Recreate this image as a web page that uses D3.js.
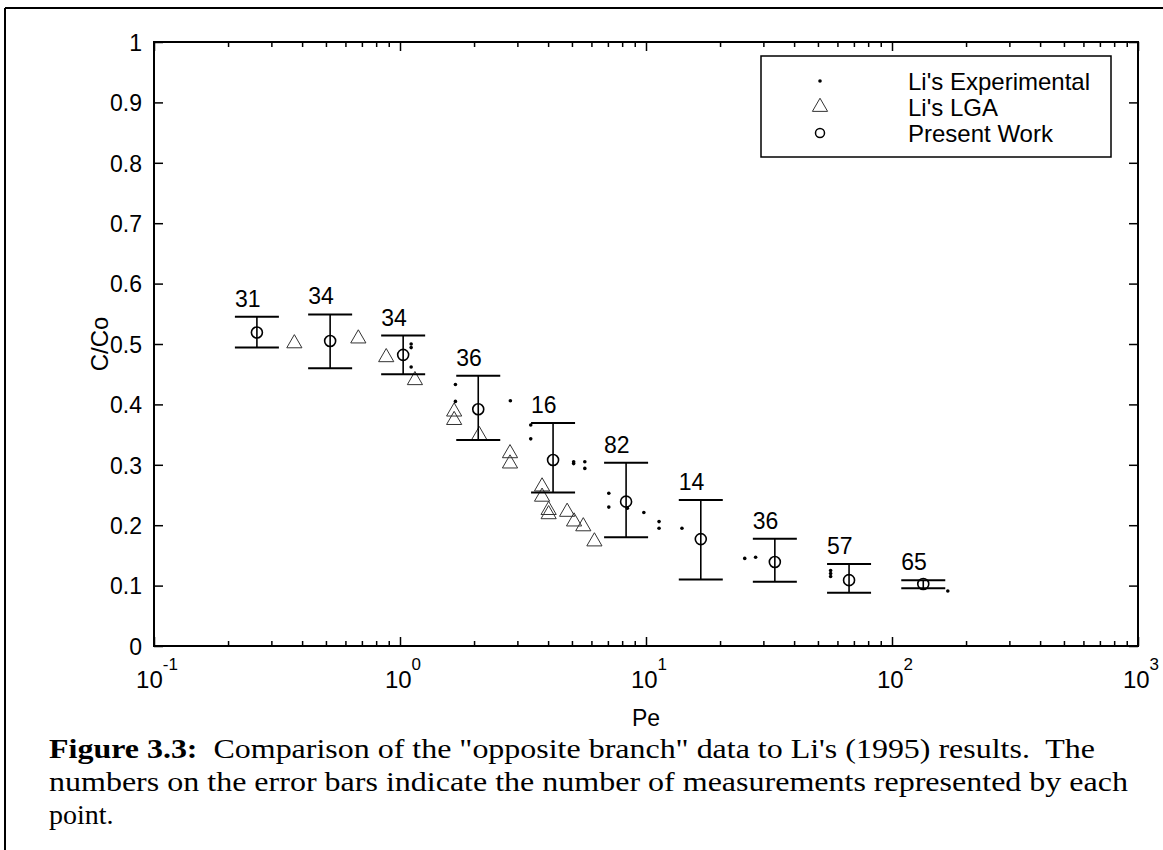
<!DOCTYPE html>
<html>
<head>
<meta charset="utf-8">
<script src="https://cdn.jsdelivr.net/npm/d3@7"></script>
<style>
  html, body { margin: 0; padding: 0; background: #fff; }
  svg text { font-family: "Liberation Sans", Arial, Helvetica, sans-serif; fill: #000; }
  .caption { font-family: "Liberation Serif", "Times New Roman", serif; }
</style>
</head>
<body>
<svg id="chart"></svg>
<script>
// Present Work: mean C/Co with error bar limits and number of measurements
const pwPe = [0.262, 0.52, 1.03, 2.08, 4.19, 8.3, 16.7, 33.4, 66.9, 134];
const pwC  = [0.519, 0.505, 0.482, 0.392, 0.308, 0.239, 0.177, 0.139, 0.109, 0.1026];
const pwHi = [0.545, 0.549, 0.514, 0.4475, 0.369, 0.3035, 0.2417, 0.1777, 0.1358, 0.109];
const pwLo = [0.494, 0.460, 0.450, 0.341, 0.254, 0.180, 0.110, 0.1065, 0.088, 0.0955];
const pwN  = [31, 34, 34, 36, 16, 82, 14, 36, 57, 65];

// Li's LGA (triangles)
const lgaPe = [0.372, 0.677, 0.879, 1.15, 1.66, 1.66, 2.1, 2.8, 2.8, 3.78, 3.78, 4.02, 4.02, 4.78, 5.1, 5.56, 6.17];
const lgaC  = [0.501, 0.509, 0.478, 0.440, 0.388, 0.374, 0.349, 0.319, 0.302, 0.264, 0.247, 0.225, 0.218, 0.222, 0.206, 0.198, 0.173];

// Li's Experimental (dots)
const expPe = [1.11, 1.11, 1.11, 1.68, 1.68, 2.81, 3.4, 3.4, 5.08, 5.08, 5.64, 5.64, 7.06, 7.06, 8.4, 9.8, 11.3, 11.3, 14.0, 25.2, 27.9, 56.3, 56.3, 56.3, 168.6];
const expC  = [0.500, 0.494, 0.462, 0.433, 0.405, 0.406, 0.366, 0.343, 0.305, 0.302, 0.305, 0.294, 0.253, 0.230, 0.228, 0.221, 0.206, 0.195, 0.195, 0.145, 0.147, 0.125, 0.120, 0.115, 0.091];

const yTicks = [0, 0.1, 0.2, 0.3, 0.4, 0.5, 0.6, 0.7, 0.8, 0.9, 1];
const xMajor = [0.1, 1, 10, 100, 1000];
const legendLabels = ["Li's Experimental", "Li's LGA", "Present Work"];
const captionLines = [
  "Comparison of the \"opposite branch\" data to Li's (1995) results.\u00a0 The",
  "numbers on the error bars indicate the number of measurements represented by each",
  "point."
];

const W = 1163, H = 850;
const plot = { left: 154, right: 1138, top: 42, bottom: 646 };

const svg = d3.select("#chart").attr("width", W).attr("height", H);

const x = d3.scaleLog().domain([0.1, 1000]).range([plot.left, plot.right]);
const y = d3.scaleLinear().domain([0, 1]).range([plot.bottom, plot.top]);

// page border (top and left edge of the scanned page)
svg.append("line").attr("x1", 5).attr("x2", W).attr("y1", 8).attr("y2", 8)
  .attr("stroke", "#000").attr("stroke-width", 2);
svg.append("line").attr("x1", 5).attr("x2", 5).attr("y1", 8).attr("y2", H)
  .attr("stroke", "#000").attr("stroke-width", 2);

// minor log ticks
const xMinor = [];
for (let d = 0.1; d < 1000; d *= 10) {
  for (let k = 2; k <= 9; k++) xMinor.push(d * k);
}

function tickAxis(axis, transform) {
  const g = svg.append("g").attr("transform", transform).call(axis);
  g.select(".domain").remove();
  g.selectAll(".tick line").attr("stroke", "#000").attr("stroke-width", 1.5);
  return g;
}

// bottom + top ticks (inward)
tickAxis(d3.axisBottom(x).tickValues(xMinor).tickSize(-5).tickFormat(""), `translate(0,${plot.bottom})`);
tickAxis(d3.axisBottom(x).tickValues(xMajor).tickSize(-9).tickFormat(""), `translate(0,${plot.bottom})`);
tickAxis(d3.axisTop(x).tickValues(xMinor).tickSize(-5).tickFormat(""), `translate(0,${plot.top})`);
tickAxis(d3.axisTop(x).tickValues(xMajor).tickSize(-9).tickFormat(""), `translate(0,${plot.top})`);

// left + right ticks
const yl = tickAxis(d3.axisLeft(y).tickValues(yTicks).tickSize(-9).tickPadding(12)
  .tickFormat(d => d === 0 ? "0" : d === 1 ? "1" : d3.format(".1f")(d)), `translate(${plot.left},0)`);
yl.selectAll(".tick text").style("font-size", "23px").attr("dy", "0.36em");
tickAxis(d3.axisRight(y).tickValues(yTicks).tickSize(-9).tickFormat(""), `translate(${plot.right},0)`);

// x tick labels with superscript exponents
const xl = svg.append("g");
xMajor.forEach(v => {
  const t = xl.append("text")
    .attr("x", x(v) + 3)
    .attr("y", 688)
    .attr("text-anchor", "middle")
    .style("font-size", "24px");
  t.append("tspan").text("10");
  t.append("tspan").attr("dy", -18).style("font-size", "17px").text(Math.round(Math.log10(v)));
});

// frame
svg.append("rect")
  .attr("x", plot.left).attr("y", plot.top)
  .attr("width", plot.right - plot.left).attr("height", plot.bottom - plot.top)
  .attr("fill", "none").attr("stroke", "#000").attr("stroke-width", 2);

// axis titles
svg.append("text").attr("x", (plot.left + plot.right) / 2).attr("y", 726)
  .attr("text-anchor", "middle").style("font-size", "23px").text("Pe");
svg.append("text")
  .attr("transform", `translate(108,${(plot.top + plot.bottom) / 2}) rotate(-90)`)
  .attr("text-anchor", "middle").style("font-size", "24px").text("C/Co");

// triangle symbol
const tri = d3.symbol().type(d3.symbolTriangle).size(100);

// Li's LGA
svg.append("g").selectAll("path")
  .data(lgaPe.map((p, i) => [p, lgaC[i]]))
  .join("path")
  .attr("d", tri)
  .attr("transform", d => `translate(${x(d[0])},${y(d[1])})`)
  .attr("fill", "none").attr("stroke", "#333").attr("stroke-width", 1);

// Li's Experimental
svg.append("g").selectAll("circle")
  .data(expPe.map((p, i) => [p, expC[i]]))
  .join("circle")
  .attr("cx", d => x(d[0])).attr("cy", d => y(d[1])).attr("r", 1.8)
  .attr("fill", "#000");

// Present Work error bars
const cap = 22;
const pw = pwPe.map((p, i) => ({ pe: p, c: pwC[i], hi: pwHi[i], lo: pwLo[i], n: pwN[i] }));
const eb = svg.append("g").selectAll("g").data(pw).join("g");
eb.append("line")
  .attr("x1", d => x(d.pe)).attr("x2", d => x(d.pe))
  .attr("y1", d => y(d.hi)).attr("y2", d => y(d.lo))
  .attr("stroke", "#000").attr("stroke-width", 1.6);
eb.append("line")
  .attr("x1", d => x(d.pe) - cap).attr("x2", d => x(d.pe) + cap)
  .attr("y1", d => y(d.hi)).attr("y2", d => y(d.hi))
  .attr("stroke", "#000").attr("stroke-width", 2);
eb.append("line")
  .attr("x1", d => x(d.pe) - cap).attr("x2", d => x(d.pe) + cap)
  .attr("y1", d => y(d.lo)).attr("y2", d => y(d.lo))
  .attr("stroke", "#000").attr("stroke-width", 2);
eb.append("circle")
  .attr("cx", d => x(d.pe)).attr("cy", d => y(d.c)).attr("r", 5.5)
  .attr("fill", "none").attr("stroke", "#000").attr("stroke-width", 1.6);
eb.append("text")
  .attr("x", d => x(d.pe) - cap).attr("y", d => y(d.hi) - 10)
  .style("font-size", "23px").text(d => d.n);

// legend
const lg = svg.append("g");
lg.append("rect").attr("x", 761).attr("y", 56).attr("width", 350).attr("height", 101)
  .attr("fill", "#fff").attr("stroke", "#000").attr("stroke-width", 1.5);
const rowY = [81, 107, 133];
lg.append("circle").attr("cx", 820).attr("cy", rowY[0]).attr("r", 1.8).attr("fill", "#000");
lg.append("path").attr("d", tri).attr("transform", `translate(820,${rowY[1]})`)
  .attr("fill", "none").attr("stroke", "#333").attr("stroke-width", 1);
lg.append("circle").attr("cx", 820).attr("cy", rowY[2]).attr("r", 4.5)
  .attr("fill", "none").attr("stroke", "#000").attr("stroke-width", 1.5);
legendLabels.forEach((s, i) => {
  lg.append("text").attr("x", 908).attr("y", rowY[i]).attr("dy", "0.36em")
    .style("font-size", "24px").text(s);
});

// caption
const capLen = [1046, 1079, null];
const cap0 = svg.append("text").attr("class", "caption").attr("x", 49).attr("y", 758)
  .attr("textLength", capLen[0]).attr("lengthAdjust", "spacingAndGlyphs")
  .style("font-size", "28px");
cap0.append("tspan").style("font-weight", "bold").text("Figure 3.3:");
cap0.append("tspan").text("\u00a0 " + captionLines[0]);
svg.append("text").attr("class", "caption").attr("x", 49).attr("y", 791)
  .attr("textLength", capLen[1]).attr("lengthAdjust", "spacingAndGlyphs")
  .style("font-size", "28px").text(captionLines[1]);
svg.append("text").attr("class", "caption").attr("x", 49).attr("y", 824)
  .style("font-size", "28px").text(captionLines[2]);
</script>
</body>
</html>
